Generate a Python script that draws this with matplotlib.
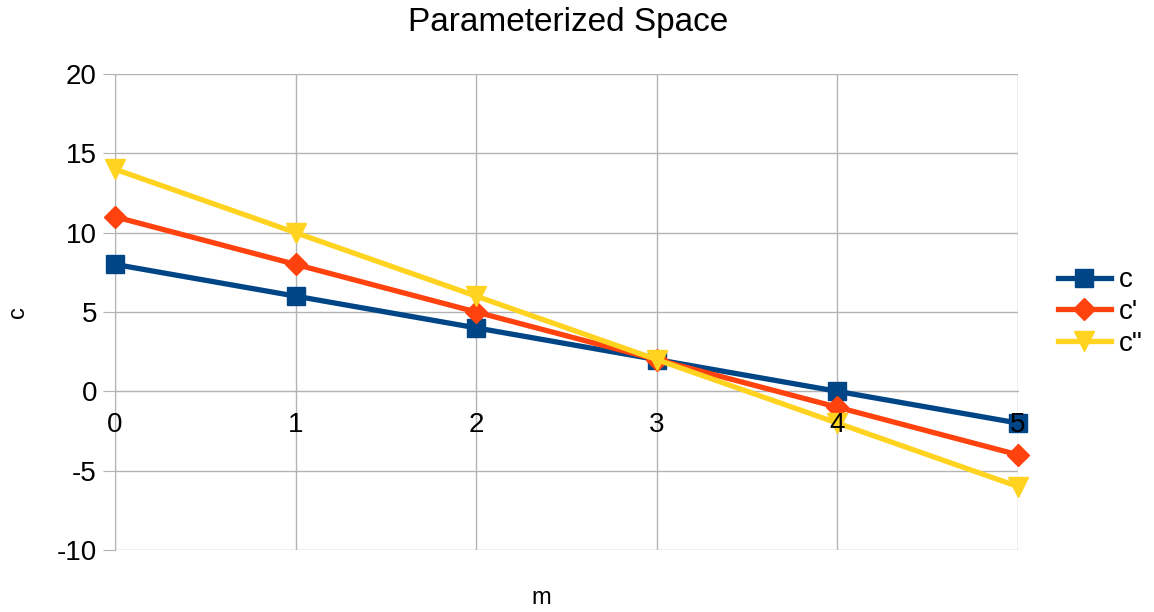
import matplotlib.pyplot as plt

plt.rcParams['font.family'] = ['Liberation Sans', 'DejaVu Sans']
plt.rcParams['axes.unicode_minus'] = False

# datos
m = [0, 1, 2, 3, 4, 5]
c = [8, 6, 4, 2, 0, -2]
c1 = [11, 8, 5, 2, -1, -4]
c2 = [14, 10, 6, 2, -2, -6]

fig = plt.figure(figsize=(11.54, 6.12), dpi=100)
ax = fig.add_axes([115 / 1154, 62 / 612, 903 / 1154, 476 / 612])

grey = '#b3b3b3'
ax.plot(m, c, color='#004586', lw=3.8, marker='s', ms=13, label='c', zorder=3, clip_on=False)
ax.plot(m, c1, color='#ff420e', lw=3.8, marker='D', ms=11, label="c'", zorder=4, clip_on=False)
ax.plot(m, c2, color='#ffd320', lw=3.8, marker='v', ms=15, label='c"', zorder=5, clip_on=False)

ax.set_xlim(0, 5)
ax.set_ylim(-10, 20)
ax.set_yticks(range(-10, 21, 5))
ax.set_xticks(m)
ax.grid(True, color=grey, lw=1)
ax.set_axisbelow(True)

for s in ['top', 'right']:
    ax.spines[s].set_visible(False)
ax.spines['left'].set_color(grey)
ax.spines['bottom'].set_color(grey)
ax.spines['bottom'].set_position(('data', 0))

ax.tick_params(axis='y', length=9, color=grey, labelsize=20, pad=4)
ax.tick_params(axis='x', length=0, labelbottom=False)

# etiquetas del eje x encima de los marcadores
for x in m:
    ax.text(x, -2.1, str(x), fontsize=20, ha='center', va='center', zorder=10, clip_on=False)

fig.text(568 / 1154, 1 - 22 / 612, 'Parameterized Space', fontsize=24, ha='center', va='center')
fig.text(18 / 1154, 1 - 312 / 612, 'c', fontsize=17, rotation=90, ha='center', va='center')
fig.text(541 / 1154, 1 - 598 / 612, 'm', fontsize=17, ha='center', va='center')

ax.legend(loc='center left', bbox_to_anchor=(1.044, 0.5), frameon=False, fontsize=20,
          handlelength=1.9, handletextpad=0.3, labelspacing=0.2, borderpad=0, borderaxespad=0)

fig.savefig('out.png', dpi=100)
